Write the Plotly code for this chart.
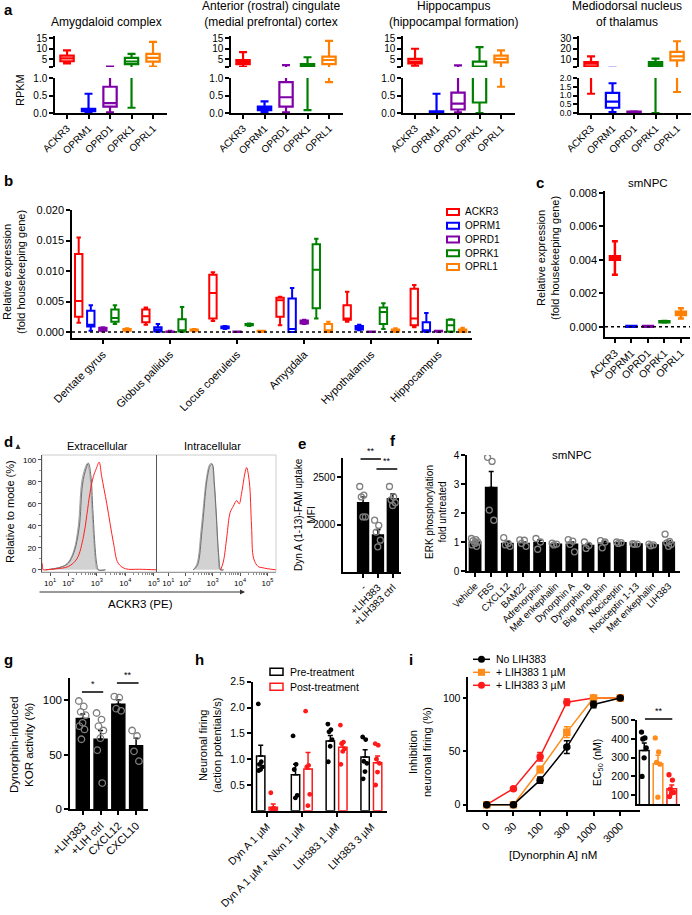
import numpy as np
import plotly.graph_objects as go

W, H = 692, 915
FONT = "Liberation Sans, Arial, Helvetica, sans-serif"

# ---------------- data ----------------
genes = ["ACKR3", "OPRM1", "OPRD1", "OPRK1", "OPRL1"]
gene_colors = ["#ff0000", "#0000ff", "#8000a8", "#008000", "#ff8000"]

# a: RPKM box stats per gene (min, q1, median, q3, max)
region_titles = ["Amygdaloid complex",
                 "Anterior (rostral) cingulate<br>(medial prefrontal) cortex",
                 "Hippocampus<br>(hippocampal formation)",
                 "Mediodorsal nucleus<br>of thalamus"]
rpkm_amygdaloid = [(3.1, 4.1, 5.5, 6.8, 9.2), (0.0, 0.05, 0.08, 0.12, 0.55), (0.02, 0.18, 0.28, 0.75, 1.6),
                   (0.15, 2.8, 4.0, 5.7, 7.6), (1.6, 3.9, 5.7, 7.6, 13.2)]
rpkm_cingulate = [(1.5, 2.8, 3.8, 4.7, 8.4), (0.02, 0.08, 0.13, 0.18, 0.33), (0.02, 0.18, 0.45, 0.88, 2.3),
                  (0.08, 1.5, 2.2, 2.8, 6.0), (0.88, 2.8, 4.7, 6.3, 13.7)]
rpkm_hippocampus = [(2.0, 3.1, 4.0, 5.2, 10.0), (0.0, 0.01, 0.03, 0.05, 0.55), (0.02, 0.1, 0.27, 0.58, 2.2),
                    (0.0, 0.3, 1.6, 3.9, 10.8), (0.75, 3.6, 5.2, 6.8, 9.2)]
rpkm_thalamus = [(1.1, 3.0, 5.6, 7.1, 12.6), (0.05, 0.3, 0.65, 1.15, 1.7), (0.0, 0.02, 0.05, 0.08, 0.1),
                 (0.0, 3.0, 5.0, 7.1, 10.4), (1.2, 8.8, 12.6, 16.8, 27.0)]

# b: relative expression per brain region (min, q1, median, q3, max)
b_regions = ["Dentate gyrus", "Globus pallidus", "Locus coeruleus", "Amygdala", "Hypothalamus", "Hippocampus"]
b_ackr3 = [(0.0015, 0.0025, 0.0051, 0.0128, 0.0155), (0.0012, 0.0016, 0.0026, 0.0037, 0.0040),
           (0.0018, 0.0022, 0.0064, 0.0094, 0.0098), (0.0011, 0.0025, 0.0052, 0.0056, 0.0058),
           (0.0017, 0.0020, 0.0022, 0.0044, 0.0066), (0.0008, 0.0011, 0.0022, 0.0071, 0.0077)]
b_oprm1 = [(0.0002, 0.0009, 0.0012, 0.0035, 0.0044), (0.0000, 0.0001, 0.0004, 0.0008, 0.0013),
           (0.0005, 0.0006, 0.0007, 0.0009, 0.0010), (0.0000, 0.0000, 0.0005, 0.0055, 0.0072),
           (0.0003, 0.0004, 0.0007, 0.0010, 0.0012), (0.0000, 0.0001, 0.0003, 0.0016, 0.0031)]
b_oprd1 = [(0.0001, 0.0002, 0.0004, 0.0007, 0.0008), (0.0000, 0.0000, 0.0001, 0.0001, 0.0002),
           (0.0000, 0.0000, 0.0001, 0.0001, 0.0001), (0.0013, 0.0014, 0.0017, 0.0019, 0.0020),
           (0.0000, 0.0000, 0.0000, 0.0001, 0.0001), (0.0000, 0.0001, 0.0001, 0.0002, 0.0002)]
b_oprk1 = [(0.0013, 0.0017, 0.0023, 0.0037, 0.0044), (0.0000, 0.0001, 0.0003, 0.0021, 0.0041),
           (0.0010, 0.0011, 0.0012, 0.0013, 0.0014), (0.0022, 0.0039, 0.0102, 0.0144, 0.0153),
           (0.0005, 0.0013, 0.0033, 0.0040, 0.0047), (0.0000, 0.0001, 0.0011, 0.0020, 0.0021)]
b_oprl1 = [(0.0001, 0.0002, 0.0003, 0.0005, 0.0006), (0.0001, 0.0002, 0.0003, 0.0004, 0.0005),
           (0.0000, 0.0001, 0.0001, 0.0002, 0.0002), (0.0000, 0.0000, 0.0003, 0.0013, 0.0017),
           (0.0000, 0.0001, 0.0002, 0.0004, 0.0006), (0.0000, 0.0000, 0.0002, 0.0004, 0.0007)]

# c: smNPC relative expression (min, q1, median, q3, max)
c_stats = [(0.0031, 0.0040, 0.0041, 0.0042, 0.0051), (0.0, 0.0, 0.00002, 0.00004, 0.00005),
           (0.0, 0.0, 0.00002, 0.00004, 0.00005), (0.00025, 0.00027, 0.0003, 0.00033, 0.00035),
           (0.0005, 0.0007, 0.0008, 0.0009, 0.0011)]

# d: flow cytometry histograms (x in decades of ACKR3-PE, y in % of mode)
ext_iso_x = [1.2, 1.5, 1.8, 2.0, 2.2, 2.35, 2.47, 2.58, 2.67, 2.75, 2.82, 2.9, 2.96, 3.02, 3.3]
ext_iso_y = [0, 1, 3, 7, 18, 40, 80, 92, 97, 88, 60, 25, 6, 0, 0]
ext_ctrl_x = [1.2, 1.5, 1.8, 2.0, 2.2, 2.38, 2.5, 2.62, 2.71, 2.79, 2.86, 2.94, 3.0, 3.06, 3.3]
ext_ctrl_y = [0, 1, 3, 6, 16, 38, 78, 92, 97, 86, 55, 20, 5, 0, 0]
ext_red_x = [1.08, 1.12, 1.2, 1.6, 2.0, 2.3, 2.53, 2.65, 2.76, 2.88, 2.98, 3.08, 3.17, 3.35, 3.58, 3.75, 4.0, 4.5, 5.1]
ext_red_y = [6, 0, 0, 1, 3, 10, 30, 50, 70, 85, 92, 98, 85, 60, 25, 6, 1, 0.5, 0]
int_iso_x = [2.3, 2.43, 2.6, 2.79, 2.9, 2.97, 3.05, 3.12, 3.21, 3.27, 3.4]
int_iso_y = [0, 5, 40, 85, 96, 97, 80, 55, 15, 0, 0]
int_ctrl_x = [2.3, 2.45, 2.62, 2.8, 2.92, 2.99, 3.07, 3.14, 3.23, 3.3, 3.4]
int_ctrl_y = [0, 4, 36, 82, 95, 96, 78, 50, 12, 0, 0]
int_red_x = [3.3, 3.4, 3.52, 3.64, 3.76, 3.88, 3.97, 4.06, 4.18, 4.24, 4.34, 4.42, 4.5, 4.66, 4.8, 5.0, 5.3]
int_red_y = [0, 8, 30, 52, 58, 63, 60, 70, 88, 93, 80, 40, 10, 3, 2, 1, 0]
decade_labels = ["10<sup>1</sup>", "10<sup>2</sup>", "10<sup>3</sup>", "10<sup>4</sup>", "10<sup>5</sup>"]

# e: Dyn A (1-13)-FAM uptake MFI
e_labels = ["-", "+LIH383", "+LIH383 ctrl"]
e_mean = [2230, 1890, 2270]
e_sem = [60, 55, 50]
e_points = [[2400, 2310, 2290, 2080, 2080], [2045, 1990, 1920, 1835, 1765], [2400, 2290, 2260, 2230, 2200]]

# f: ERK phosphorylation, fold untreated
f_labels = ["Vehicle", "FBS", "CXCL12", "BAM22", "Adrenorphin", "Met enkephalin", "Dynorphin A",
            "Dynorphin B", "Big dynorphin", "Nociceptin", "Nociceptin 1-13", "Met enkephalin", "LIH383"]
f_mean = [1.0, 2.88, 0.95, 0.95, 0.97, 0.92, 0.92, 0.88, 0.96, 0.97, 0.93, 0.9, 0.98]
f_sem = [0.05, 0.55, 0.06, 0.05, 0.1, 0.02, 0.08, 0.06, 0.07, 0.02, 0.01, 0.02, 0.07]
f_points = [[1.12, 1.08, 1.05, 1.0, 0.95, 0.9, 0.85], [3.92, 3.78, 2.1, 1.75], [1.15, 0.95, 0.9, 0.85],
            [1.07, 1.06, 0.95, 0.85], [1.12, 1.0, 0.75], [0.96, 0.93, 0.9], [1.08, 1.03, 0.92, 0.66],
            [1.0, 0.88, 0.78], [1.05, 1.0, 0.8], [1.0, 0.98, 0.95], [0.94, 0.93, 0.92], [0.93, 0.9, 0.87],
            [1.27, 1.02, 0.97, 0.92, 0.85]]

# g: dynorphin-induced KOR activity (%)
g_labels = ["+LIH383", "+LIH ctrl", "CXCL12", "CXCL10"]
g_mean = [83, 64, 96, 58]
g_sem = [4, 8, 4, 7]
g_points = [[99, 94, 89, 86, 79, 76, 73, 64], [88, 82, 76, 72, 65, 54, 24], [103, 102, 92, 90], [72, 67, 53, 44]]

# h: neuronal firing (action potentials/s)
h_labels = ["Dyn A 1 µM", "Dyn A 1 µM + Nlxn 1 µM", "LIH383 1 µM", "LIH383 3 µM"]
h_pre_mean = [1.06, 0.70, 1.35, 1.04]
h_pre_sem = [0.21, 0.2, 0.11, 0.14]
h_post_mean = [0.07, 0.81, 1.23, 0.93]
h_post_sem = [0.06, 0.32, 0.1, 0.13]
h_pre_points = [[2.07, 0.95, 0.9, 0.85, 0.8, 0.78], [1.45, 0.9, 0.8, 0.3, 0.25],
                [1.68, 1.57, 1.53, 1.38, 1.25, 0.95], [1.43, 1.38, 0.96, 0.92, 0.76, 0.62]]
h_post_points = [[0.35, 0.05, 0.03, 0.02, 0.02], [1.93, 0.88, 0.85, 0.32, 0.1],
                 [1.66, 1.33, 1.3, 1.2, 1.15, 0.9], [1.3, 1.27, 1.0, 0.92, 0.75, 0.5]]

# i: inhibition of neuronal firing vs dynorphin A
conc_labels = ["0", "30", "100", "300", "1000", "3000"]
inh_names = ["No LIH383", "+ LIH383 1 µM", "+ LIH383 3 µM"]
inh_none = [0, 0, 23, 54, 94, 100]
inh_none_err = [1, 1, 3, 6, 3, 1]
inh_1um = [0, 0, 33, 68, 100, 100]
inh_1um_err = [0, 0, 3, 5, 2, 1]
inh_3um = [0, 15, 45, 96, 100, 100]
inh_3um_err = [0, 1, 4, 3, 1, 0]
ec50_mean = [338, 268, 135]
ec50_sem = [40, 45, 20]
ec50_points = [[436, 405, 399, 352, 299, 200], [405, 330, 275, 265, 90], [209, 181, 133, 115, 112, 93]]

BLACK, ORANGE, RED = "#000000", "#ff8c1a", "#ff1a1a"
GREY = "#7f7f7f"

# ---------------- helpers ----------------
fig = go.Figure()
layout = {}
shapes = []
annotations = []
n_axes = [0]


def fx(px):
    return px / W


def fy(py):
    return 1 - py / H


def new_axes(x0, x1, y0, y1, xr, yr, xkw=None, ykw=None):
    n_axes[0] += 1
    s = "" if n_axes[0] == 1 else str(n_axes[0])
    base = dict(showline=True, linecolor="black", linewidth=1.5, ticks="outside", ticklen=4,
                tickwidth=1.5, tickcolor="black", showgrid=False, zeroline=False, fixedrange=True,
                automargin=False, tickfont=dict(size=10))
    xa = dict(base, domain=[fx(x0), fx(x1)], range=xr, anchor="y" + s)
    ya = dict(base, domain=[fy(y1), fy(y0)], range=yr, anchor="x" + s)
    xa.update(xkw or {})
    ya.update(ykw or {})
    layout["xaxis" + s] = xa
    layout["yaxis" + s] = ya
    return "x" + s, "y" + s


def text(x, y, s, size=10, angle=0, bold=False, xanchor="center", yanchor="middle"):
    annotations.append(dict(x=fx(x), y=fy(y), xref="paper", yref="paper",
                            text="<b>%s</b>" % s if bold else s, showarrow=False,
                            font=dict(size=size, color="black"), textangle=angle,
                            xanchor=xanchor, yanchor=yanchor))


def rect_px(x0, x1, y0, y1, color, lw, fill="white"):
    shapes.append(dict(type="rect", xref="paper", yref="paper", x0=fx(x0), x1=fx(x1),
                       y0=fy(y1), y1=fy(y0), line=dict(color=color, width=lw), fillcolor=fill))


def box(ax, xs, stats, color, width, lw):
    return go.Box(x=xs, lowerfence=[s[0] for s in stats], q1=[s[1] for s in stats],
                  median=[s[2] for s in stats], q3=[s[3] for s in stats],
                  upperfence=[s[4] for s in stats], xaxis=ax[0], yaxis=ax[1],
                  fillcolor="white", line=dict(color=color, width=lw), width=width,
                  whiskerwidth=0.6, boxpoints=False, hoverinfo="skip", showlegend=False)


def jitter(n, spread):
    return [((i * 0.618) % 1 - 0.5) * spread for i in range(n)]


def dots(ax, centers, points, color, size, open_=True, spread=0.4):
    xs, ys = [], []
    for c, pts in zip(centers, points):
        xs += [c + j for j in jitter(len(pts), spread)]
        ys += pts
    fig.add_trace(go.Scatter(x=xs, y=ys, xaxis=ax[0], yaxis=ax[1], mode="markers",
                             marker=dict(symbol="circle-open" if open_ else "circle", size=size,
                                         color=color, line=dict(width=1.3, color=color)),
                             hoverinfo="skip", showlegend=False))


def bars(ax, xs, mean, sem, fill, edge, width, lw=1.5):
    fig.add_trace(go.Bar(x=xs, y=mean, xaxis=ax[0], yaxis=ax[1], width=width,
                         marker=dict(color=fill, line=dict(color=edge, width=lw)),
                         error_y=dict(type="data", array=sem, arrayminus=[0] * len(sem),
                                      symmetric=False, color=edge, thickness=1.5, width=2.5),
                         hoverinfo="skip", showlegend=False))


def sig(ax, x0, x1, ypx, label):
    shapes.append(dict(type="line", xref=ax[0], yref="paper", x0=x0, x1=x1,
                       y0=fy(ypx), y1=fy(ypx), line=dict(color="black", width=1.5)))
    annotations.append(dict(x=(x0 + x1) / 2, y=fy(ypx - 1), xref=ax[0], yref="paper",
                            text=label, showarrow=False, font=dict(size=9), yanchor="bottom"))


# ---------------- panel a ----------------
a_left = [55, 231, 403, 579]
a_sets = [rpkm_amygdaloid, rpkm_cingulate, rpkm_hippocampus, rpkm_thalamus]
a_upper_range = [[1.4, 16], [1.4, 16], [1.4, 16], [2.5, 32]]
a_upper_ticks = [[1.4, 5, 10, 15], [1.4, 5, 10, 15], [1.4, 5, 10, 15], [2.5, 10, 20, 30]]
a_lower_range = [[0, 1], [0, 1], [0, 1], [0, 2]]
a_lower_ticks = [[0, 0.5, 1], [0, 0.5, 1], [0, 0.5, 1], [0, 0.5, 1, 1.5, 2]]
a_title_x = [106, 271, 453, 627]
for i in range(4):
    x0 = a_left[i]
    up = new_axes(x0, x0 + 112, 36, 67, [-0.56, 4.65], a_upper_range[i],
                  xkw=dict(visible=False),
                  ykw=dict(tickvals=a_upper_ticks[i],
                           ticktext=[""] + [str(v) for v in a_upper_ticks[i][1:]]))
    lo = new_axes(x0, x0 + 112, 78, 113, [-0.56, 4.65], a_lower_range[i],
                  xkw=dict(tickvals=list(range(5)), ticktext=genes, tickangle=-45),
                  ykw=dict(tickvals=a_lower_ticks[i], tickformat=".1f",
                           tickfont=dict(size=10 if i < 3 else 8.5)))
    for ax in (up, lo):
        for k, s in enumerate(a_sets[i]):
            fig.add_trace(box(ax, [k], [s], gene_colors[k], 0.62, 2.2))
    if "<br>" in region_titles[i]:
        text(a_title_x[i], 14.5, region_titles[i], size=12)
    else:
        text(a_title_x[i], 21.5, region_titles[i], size=12)
text(20, 90, "RPKM", size=11, angle=-90)
text(2, -1, "a", size=15, bold=True, xanchor="left", yanchor="top")

# ---------------- panel b ----------------
axb = new_axes(72, 472, 210, 338, [-0.46, 5.5], [-0.00098, 0.020],
               xkw=dict(tickvals=list(range(6)), ticktext=b_regions, tickangle=-45, tickfont=dict(size=11)),
               ykw=dict(tickvals=[0, 0.005, 0.01, 0.015, 0.02], tickformat=".3f", tickfont=dict(size=11)))
for k, stats in enumerate([b_ackr3, b_oprm1, b_oprd1, b_oprk1, b_oprl1]):
    xs = [g + (k - 2) * 0.18 for g in range(len(b_regions))]
    fig.add_trace(box(axb, xs, stats, gene_colors[k], 0.11, 2.0))
shapes.append(dict(type="line", xref=axb[0] + " domain", yref=axb[1], x0=0, x1=1, y0=0, y1=0,
                   line=dict(color="black", width=1.5, dash="dot")))
text(14, 272, "Relative expression<br>(fold housekeeping gene)", size=11, angle=-90)
text(2, 170, "b", size=15, bold=True, xanchor="left", yanchor="top")
for k, g in enumerate(genes):
    yc = 212 + 13.75 * k
    rect_px(447, 459, yc - 3, yc + 3, gene_colors[k], 2)
    text(463, yc, g, size=10, xanchor="left")

# ---------------- panel c ----------------
axc = new_axes(605, 690, 191, 337, [-0.6, 4.55], [-0.00061, 0.0081],
               xkw=dict(tickvals=list(range(5)), ticktext=genes, tickangle=-45, tickfont=dict(size=10.5)),
               ykw=dict(tickvals=[0, 0.002, 0.004, 0.006, 0.008], tickformat=".3f", tickfont=dict(size=11)))
for k, s in enumerate(c_stats):
    fig.add_trace(box(axc, [k], [s], gene_colors[k], 0.6, 2.5))
shapes.append(dict(type="line", xref=axc[0] + " domain", yref=axc[1], x0=0, x1=1, y0=0, y1=0,
                   line=dict(color="black", width=1.5, dash="dot")))
text(648, 183, "smNPC", size=11.5)
text(548, 258, "Relative expression<br>(fold housekeeping gene)", size=11, angle=-90)
text(534, 172, "c", size=15, bold=True, xanchor="left", yanchor="top")

# ---------------- panel d ----------------
minor_vals = [n + np.log10(m) for n in range(2, 5) for m in range(2, 10)]
d_common_x = dict(ticktext=decade_labels, tickfont=dict(size=8), linecolor="#999999", linewidth=1,
                  tickcolor="#555555", tickwidth=1, ticklen=3,
                  minor=dict(tickvals=minor_vals, ticklen=2, tickcolor="#888888", tickwidth=0.8))
axd1 = new_axes(42, 157, 455, 572, [1.077, 5.11], [-2, 104.5],
                xkw=dict(d_common_x, tickvals=[1.36, 2, 3, 4, 5]),
                ykw=dict(tickvals=[0, 20, 40, 60, 80, 100], tickfont=dict(size=8), linecolor="#555555",
                         linewidth=1.2, tickcolor="#555555", tickwidth=1, ticklen=3,
                         minor=dict(dtick=10, ticklen=2, tickcolor="#888888", tickwidth=0.8)))
axd2 = new_axes(157, 276, 455, 572, [0.98, 5.31], [-2, 104.5],
                xkw=dict(d_common_x, tickvals=[1.39, 2, 3, 4, 5]),
                ykw=dict(showticklabels=False, ticks="", linecolor="#555555", linewidth=1.2))
shapes.append(dict(type="rect", xref="paper", yref="paper", x0=fx(42), x1=fx(276),
                   y0=fy(572), y1=fy(455), line=dict(color="#cccccc", width=1), layer="below"))
for ax, ix, iy, cx, cy, rx, ry in [(axd1, ext_iso_x, ext_iso_y, ext_ctrl_x, ext_ctrl_y, ext_red_x, ext_red_y),
                                   (axd2, int_iso_x, int_iso_y, int_ctrl_x, int_ctrl_y, int_red_x, int_red_y)]:
    fig.add_trace(go.Scatter(x=ix, y=iy, xaxis=ax[0], yaxis=ax[1], mode="lines", fill="tozeroy",
                             fillcolor="#d2d2d2", line=dict(color="#a0a0a0", width=1, shape="spline"),
                             hoverinfo="skip", showlegend=False))
    fig.add_trace(go.Scatter(x=cx, y=cy, xaxis=ax[0], yaxis=ax[1], mode="lines",
                             line=dict(color="#707070", width=1, shape="spline"),
                             hoverinfo="skip", showlegend=False))
    fig.add_trace(go.Scatter(x=rx, y=ry, xaxis=ax[0], yaxis=ax[1], mode="lines",
                             line=dict(color="#ff2020", width=1, shape="spline"),
                             hoverinfo="skip", showlegend=False))
text(97, 446, "Extracellular", size=11)
text(212, 446, "Intracellular", size=11)
text(10, 512, "Relative to mode (%)", size=11, angle=-90)
text(140, 604, "ACKR3 (PE)", size=11.5)
annotations.append(dict(x=fx(245), y=fy(592), xref="paper", yref="paper", ax=-207, ay=0,
                        text="", showarrow=True, arrowhead=2, arrowsize=1, arrowwidth=1,
                        arrowcolor="#333333"))
annotations.append(dict(x=fx(18), y=fy(444), xref="paper", yref="paper", ax=0, ay=6,
                        text="", showarrow=True, arrowhead=2, arrowsize=1, arrowwidth=1,
                        arrowcolor="#333333"))
text(2, 431, "d", size=15, bold=True, xanchor="left", yanchor="top")

# ---------------- panel e ----------------
axe = new_axes(343, 401, 458, 572, [-1.35, 2.55], [1500, 2700],
               xkw=dict(tickvals=[0, 1, 2], ticktext=e_labels, tickangle=-45),
               ykw=dict(tickvals=[2000, 2500]))
bars(axe, [0, 1, 2], e_mean, e_sem, "black", "black", 0.73)
dots(axe, [0, 1, 2], e_points, GREY, 6, spread=0.45)
sig(axe, -0.17, 1.2, 459, "**")
sig(axe, 0.9, 2.3, 469, "**")
text(305, 515, "Dyn A (1-13)-FAM uptake<br>MFI", size=10, angle=-90)
text(296, 433, "e", size=15, bold=True, xanchor="left", yanchor="top")

# ---------------- panel f ----------------
axf = new_axes(467, 680, 455, 571, [-0.5, 12.7], [0, 4],
               xkw=dict(tickvals=list(range(len(f_labels))), ticktext=f_labels, tickangle=-45,
                        tickfont=dict(size=9.5)),
               ykw=dict(tickvals=[0, 1, 2, 3, 4]))
bars(axf, list(range(len(f_labels))), f_mean, f_sem, "black", "black", 0.7)
dots(axf, list(range(len(f_labels))), f_points, GREY, 6, spread=0.45)
text(572, 455, "smNPC", size=11.5)
text(436, 512, "ERK phosphorylation<br>fold untreated", size=10, angle=-90)
text(388, 430, "f", size=15, bold=True, xanchor="left", yanchor="top")

# ---------------- panel g ----------------
axg = new_axes(70, 148, 678, 809.3, [-0.72, 3.67], [0, 120],
               xkw=dict(tickvals=[0, 1, 2, 3], ticktext=g_labels, tickangle=-45, tickfont=dict(size=11)),
               ykw=dict(tickvals=[0, 50, 100], tickfont=dict(size=11.5)))
bars(axg, [0, 1, 2, 3], g_mean, g_sem, "black", "black", 0.73)
dots(axg, [0, 1, 2, 3], g_points, GREY, 6.5, spread=0.45)
sig(axg, -0.05, 1.15, 692, "*")
sig(axg, 1.92, 3.14, 683, "**")
text(21, 745, "Dynorphin-induced<br>KOR activity (%)", size=11.5, angle=-90)
text(2, 649, "g", size=15, bold=True, xanchor="left", yanchor="top")

# ---------------- panel h ----------------
axh = new_axes(252.7, 386.7, 681.7, 810.8, [-0.41, 3.44], [0, 2.5],
               xkw=dict(tickvals=[0, 1, 2, 3], ticktext=h_labels, tickangle=-45, tickfont=dict(size=10.5)),
               ykw=dict(tickvals=[0.5, 1, 1.5, 2, 2.5], tickformat=".1f", tickfont=dict(size=10.5)))
pre_x = [g - 0.18 for g in range(4)]
post_x = [g + 0.18 for g in range(4)]
bars(axh, pre_x, h_pre_mean, h_pre_sem, "white", BLACK, 0.24)
bars(axh, post_x, h_post_mean, h_post_sem, "white", RED, 0.24)
dots(axh, pre_x, h_pre_points, BLACK, 3.5, open_=False, spread=0.14)
dots(axh, post_x, h_post_points, RED, 3.5, open_=False, spread=0.14)
for k, (nm, col) in enumerate([("Pre-treatment", BLACK), ("Post-treatment", RED)]):
    yc = 671.7 + 15 * k
    rect_px(270, 283, yc - 3.5, yc + 3.5, col, 1.5)
    text(288, yc, nm, size=10.5, xanchor="left")
text(210, 746, "Neuronal firing<br>(action potentials/s)", size=11, angle=-90)
text(193, 649, "h", size=15, bold=True, xanchor="left", yanchor="top")

# ---------------- panel i ----------------
axi = new_axes(468.3, 640, 676.7, 810, [-0.69, 5.74], [-5, 120],
               xkw=dict(tickvals=list(range(6)), ticktext=conc_labels, tickangle=-45, tickfont=dict(size=10.5)),
               ykw=dict(tickvals=[0, 50, 100], tickfont=dict(size=10.5)))
series = [(inh_3um, inh_3um_err, RED, "circle"), (inh_1um, inh_1um_err, ORANGE, "square"),
          (inh_none, inh_none_err, BLACK, "circle")]
for vals, err, col, sym in series:
    fig.add_trace(go.Scatter(x=list(range(6)), y=vals, xaxis=axi[0], yaxis=axi[1], mode="lines+markers",
                             line=dict(color=col, width=1.5), marker=dict(color=col, size=7.5, symbol=sym),
                             error_y=dict(type="data", array=err, color=col, thickness=1.5, width=3),
                             hoverinfo="skip", showlegend=False))
legend_i = [(BLACK, "circle"), (ORANGE, "square"), (RED, "circle")]
for k, (col, sym) in enumerate(legend_i):
    yc = 659.3 + 13 * k
    shapes.append(dict(type="line", xref="paper", yref="paper", x0=fx(473), x1=fx(490),
                       y0=fy(yc), y1=fy(yc), line=dict(color=col, width=1.5)))
    shapes.append(dict(type="circle" if sym == "circle" else "rect", xref="paper", yref="paper",
                       x0=fx(478), x1=fx(485), y0=fy(yc + 3.5), y1=fy(yc - 3.5),
                       line=dict(color=col, width=0), fillcolor=col))
    text(494, yc, inh_names[k], size=10.5, xanchor="left")
text(553, 855, "[Dynorphin A] nM", size=11.5)
text(420, 752, "Inhibition<br>neuronal firing (%)", size=11, angle=-90)
text(407, 649, "i", size=15, bold=True, xanchor="left", yanchor="top")

axi2 = new_axes(636.7, 680, 720, 804.3, [-0.55, 2.6], [52, 500],
                xkw=dict(showticklabels=False, ticks=""),
                ykw=dict(tickvals=[100, 200, 300, 400, 500], tickfont=dict(size=10.5)))
ec_cols = [BLACK, ORANGE, RED]
for k in range(3):
    bars(axi2, [k], [ec50_mean[k]], [ec50_sem[k]], "white", ec_cols[k], 0.7)
    dots(axi2, [k], [ec50_points[k]], ec_cols[k], 4, open_=False, spread=0.4)
sig(axi2, 0.05, 2.04, 719, "**")
text(598, 763, "EC<sub>50</sub> (nM)", size=10.5, angle=-90)

layout.update(width=W, height=H, margin=dict(l=0, r=0, t=0, b=0, autoexpand=False), paper_bgcolor="white",
              plot_bgcolor="rgba(0,0,0,0)", showlegend=False, barmode="overlay",
              font=dict(family=FONT, color="black", size=10), shapes=shapes, annotations=annotations)
fig.update_layout(**layout)
# the page's default body margin would shift the 692x915 figure; drop it
fig.write_html("out.html", config={"displayModeBar": False},
               post_script="document.body.style.margin='0';")
